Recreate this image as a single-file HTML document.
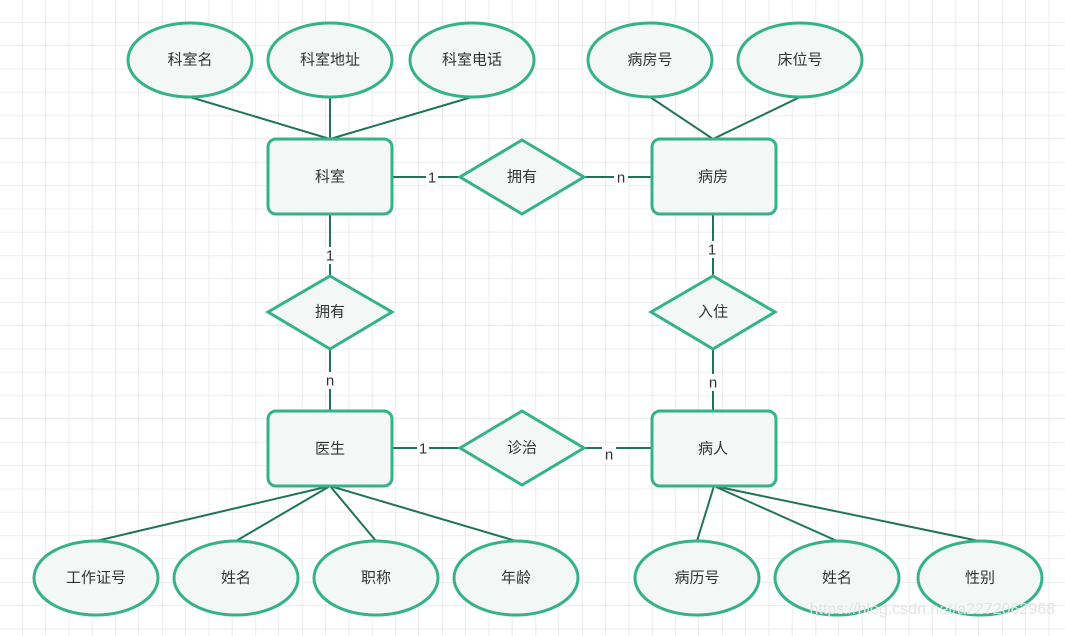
<!DOCTYPE html>
<html><head><meta charset="utf-8"><style>
html,body{margin:0;padding:0;background:#fff;}
svg{display:block;}
text{font-family:"Liberation Sans","Noto Sans CJK SC",sans-serif;}
</style></head><body>
<svg width="1065" height="636" viewBox="0 0 1065 636" xmlns="http://www.w3.org/2000/svg">
<defs>
<pattern id="g" x="-1" y="-1" width="46.67" height="46.67" patternUnits="userSpaceOnUse">
<path d="M23.33 0V46.67M0 23.33H46.67" stroke="#ececec" stroke-width="1" fill="none"/>
<path d="M46.67 0V46.67M0 46.67H46.67" stroke="#d9d9d9" stroke-width="1" fill="none"/>
</pattern>
</defs>
<rect width="1065" height="636" fill="url(#g)"/>
<g stroke="#1f7458" stroke-width="2" fill="none">
<line x1="190" y1="97" x2="330" y2="139"/>
<line x1="330" y1="97" x2="330" y2="139"/>
<line x1="472" y1="97" x2="330" y2="139"/>
<line x1="650" y1="97" x2="713" y2="139"/>
<line x1="800" y1="97" x2="713" y2="139"/>
<line x1="392" y1="177" x2="460" y2="177"/>
<line x1="584" y1="177" x2="652" y2="177"/>
<line x1="330" y1="214" x2="330" y2="276"/>
<line x1="330" y1="349" x2="330" y2="411"/>
<line x1="713" y1="214" x2="713" y2="276"/>
<line x1="713" y1="349" x2="713" y2="411"/>
<line x1="392" y1="448" x2="460" y2="448"/>
<line x1="584" y1="448" x2="652" y2="448"/>
<line x1="330" y1="486" x2="96" y2="541"/>
<line x1="330" y1="486" x2="236" y2="541"/>
<line x1="330" y1="486" x2="376" y2="541"/>
<line x1="330" y1="486" x2="516" y2="541"/>
<line x1="714" y1="486" x2="697" y2="541"/>
<line x1="714" y1="486" x2="837" y2="541"/>
<line x1="714" y1="486" x2="979" y2="541"/>
</g>
<g fill="#f3f7f5" stroke="#36b287" stroke-width="3">
<ellipse cx="190" cy="60" rx="62" ry="37"/>
<ellipse cx="330" cy="60" rx="62" ry="37"/>
<ellipse cx="472" cy="60" rx="62" ry="37"/>
<ellipse cx="650" cy="60" rx="62" ry="37"/>
<ellipse cx="800" cy="60" rx="62" ry="37"/>
<ellipse cx="96" cy="578" rx="62" ry="37"/>
<ellipse cx="236" cy="578" rx="62" ry="37"/>
<ellipse cx="376" cy="578" rx="62" ry="37"/>
<ellipse cx="516" cy="578" rx="62" ry="37"/>
<ellipse cx="697" cy="578" rx="62" ry="37"/>
<ellipse cx="837" cy="578" rx="62" ry="37"/>
<ellipse cx="980" cy="578" rx="62" ry="37"/>
<rect x="268" y="139" width="124" height="75" rx="8"/>
<rect x="652" y="139" width="124" height="75" rx="8"/>
<rect x="268" y="411" width="124" height="75" rx="8"/>
<rect x="652" y="411" width="124" height="75" rx="8"/>
<polygon points="522,140 584,177 522,214 460,177"/>
<polygon points="330,276 392,312 330,349 268,312"/>
<polygon points="713,276 775,312 713,349 651,312"/>
<polygon points="522,411 584,448 522,485 460,448"/>
</g>
<g font-size="15" fill="#333" text-anchor="middle" dominant-baseline="central">
<text x="190" y="60">科室名</text>
<text x="330" y="60">科室地址</text>
<text x="472" y="60">科室电话</text>
<text x="650" y="60">病房号</text>
<text x="800" y="60">床位号</text>
<text x="330" y="177">科室</text>
<text x="713" y="177">病房</text>
<text x="330" y="449">医生</text>
<text x="713" y="449">病人</text>
<text x="522" y="177">拥有</text>
<text x="330" y="312">拥有</text>
<text x="713" y="312">入住</text>
<text x="522" y="448">诊治</text>
<text x="96" y="578">工作证号</text>
<text x="236" y="578">姓名</text>
<text x="376" y="578">职称</text>
<text x="516" y="578">年龄</text>
<text x="697" y="578">病历号</text>
<text x="837" y="578">姓名</text>
<text x="980" y="578">性别</text>
</g>
<g font-size="15" fill="#333" text-anchor="middle" dominant-baseline="central">
<rect x="426" y="169" width="12" height="17" fill="#fff"/><text x="432" y="178">1</text>
<rect x="614" y="169" width="14" height="17" fill="#fff"/><text x="621" y="178">n</text>
<rect x="324" y="247" width="12" height="17" fill="#fff"/><text x="330" y="256">1</text>
<rect x="323" y="372" width="14" height="17" fill="#fff"/><text x="330" y="381">n</text>
<rect x="707" y="241" width="12" height="17" fill="#fff"/><text x="712" y="250">1</text>
<rect x="706" y="374" width="14" height="17" fill="#fff"/><text x="713" y="383">n</text>
<rect x="417" y="440" width="12" height="17" fill="#fff"/><text x="423" y="449">1</text>
<rect x="602" y="446" width="14" height="17" fill="#fff"/><text x="609" y="455">n</text>
</g>
<text x="1055" y="614" font-size="16" fill="#e4e4e4" text-anchor="end" style="font-family:'Liberation Sans',sans-serif">https://blog.csdn.net/a2272062968</text>
</svg>
</body></html>
